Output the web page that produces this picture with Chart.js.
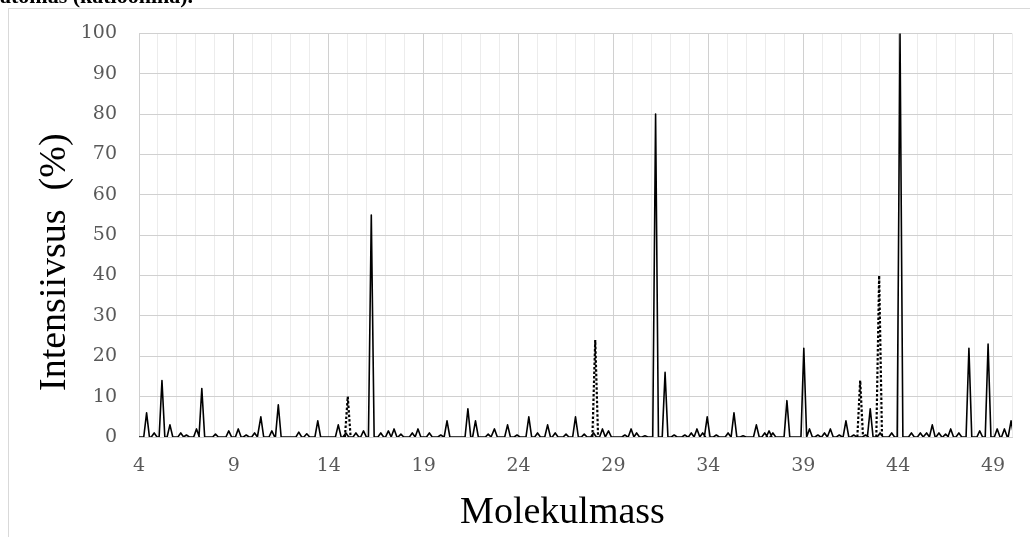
<!DOCTYPE html>
<html>
<head>
<meta charset="utf-8">
<script src="https://cdn.jsdelivr.net/npm/chart.js@4"></script>
<style>
    html, body { margin: 0; padding: 0; background: #fff; }
    body { width: 1030px; height: 537px; overflow: hidden; position: relative; }
    #caption { position: absolute; left: 0; top: -17px; font: bold 22px 'Liberation Serif', serif; line-height: 26px; white-space: nowrap; color: #000; z-index: 2; }
    #frame { position: absolute; left: 8px; top: 8px; width: 1100px; height: 600px; border: 1px solid #d9d9d9; box-sizing: border-box; }
    #wrap { position: absolute; left: 0; top: 0; width: 1030px; height: 537px; }
</style>
</head>
<body>
<div id="caption">atomas (katioonina).</div>
<div id="frame"></div>
<div id="wrap"><canvas id="spectrum"></canvas></div>
<script>
// peaks of the measured spectrum (solid line)
const solidMass = [
    4.40, 4.80, 5.21, 5.63, 6.20, 6.50, 7.03, 7.31, 8.03, 8.73,
    9.23, 9.65, 10.09, 10.42, 11.00, 11.34, 12.42, 12.84, 13.42, 14.50,
    14.90, 15.43, 15.83, 16.24, 16.74, 17.14, 17.44, 17.80, 18.40, 18.70,
    19.30, 19.90, 20.23, 21.33, 21.73, 22.40, 22.73, 23.42, 23.92, 24.54,
    25.00, 25.53, 25.93, 26.50, 27.00, 27.46, 27.95, 28.42, 28.74, 29.60,
    29.93, 30.22, 30.66, 31.22, 31.72, 32.20, 32.76, 33.10, 33.40, 33.70,
    33.94, 34.42, 35.04, 35.35, 35.83, 36.53, 36.97, 37.20, 37.40, 38.14,
    39.03, 39.33, 39.77, 40.12, 40.43, 40.90, 41.25, 41.66, 42.28, 42.53,
    43.05, 43.66, 44.10, 44.70, 45.17, 45.50, 45.80, 46.15, 46.50, 46.77,
    47.20, 47.73, 48.30, 48.74, 49.22, 49.60, 49.95
];
const solidIntensity = [
    6, 1, 14, 3, 1, 0.5, 2, 12, 0.7, 1.5,
    2, 0.5, 1, 5, 1.5, 8, 1.2, 0.8, 4, 3,
    1, 1, 1.5, 55, 1, 1.5, 2, 0.7, 1, 2,
    1, 0.5, 4, 7, 4, 0.7, 2, 3, 0.5, 5,
    1, 3, 1, 0.7, 5, 0.7, 1, 2, 1.5, 0.5,
    2, 1, 0.3, 80, 16, 0.5, 0.5, 1, 2, 1,
    5, 0.5, 1, 6, 0.3, 3, 1, 1.5, 1, 9,
    22, 2, 0.5, 1, 2, 0.5, 4, 0.5, 0.5, 7,
    1, 1, 100, 1, 1, 1, 3, 1, 0.7, 2,
    1, 22, 1.5, 23, 2, 2, 4
];

// peaks drawn with the dotted line
const dashMass = [15.0, 28.04, 42.0, 43.0];
const dashIntensity = [10, 24, 14, 40];

const xTickLabels = [4, 9, 14, 19, 24, 29, 34, 39, 44, 49];
const xTitle = 'Molekulmass';
const yTitle = 'Intensiivsus  (%)';

const HALF_WIDTH = 0.15; // half width of a drawn peak, in mass units

function spikeLine(mass, inten, broken) {
    const pts = [];
    mass.forEach((m, i) => {
        pts.push({ x: m - HALF_WIDTH, y: 0 }, { x: m, y: inten[i] }, { x: m + HALF_WIDTH, y: 0 });
        if (broken) pts.push({ x: m + HALF_WIDTH, y: null });
    });
    return pts;
}

const solidPoints = [{ x: 4, y: 0 }].concat(spikeLine(solidMass, solidIntensity, false), [{ x: 50, y: 0 }]);
const dashPoints = spikeLine(dashMass, dashIntensity, true);

const axisTitles = {
    id: 'axisTitles',
    afterDraw(chart) {
        const ctx = chart.ctx;
        const area = chart.chartArea;
        ctx.save();
        ctx.fillStyle = '#000';
        ctx.font = '38px "Liberation Serif", "Times New Roman", serif';
        ctx.textAlign = 'center';
        ctx.textBaseline = 'alphabetic';
        ctx.fillText(xTitle, (area.left + area.right) / 2 - 13, area.bottom + 86);
        ctx.translate(65, (area.top + area.bottom) / 2 + 27);
        ctx.rotate(-Math.PI / 2);
        ctx.fillText(yTitle, 0, 0);
        ctx.restore();
    }
};

const tickFont = { family: '"DejaVu Serif", serif', size: 19 };

new Chart(document.getElementById('spectrum').getContext('2d'), {
    type: 'line',
    data: {
        datasets: [
            { data: solidPoints, borderColor: '#000', borderWidth: 1.6, pointRadius: 0, tension: 0, borderJoinStyle: 'round', spanGaps: false },
            { data: dashPoints, borderColor: '#000', borderWidth: 2.2, borderDash: [2.5, 2], pointRadius: 0, tension: 0, spanGaps: false }
        ]
    },
    options: {
        responsive: true,
        maintainAspectRatio: false,
        animation: false,
        layout: { padding: { top: 30, right: 15, left: 0, bottom: 0 } },
        plugins: { legend: { display: false }, tooltip: { enabled: false } },
        scales: {
            x: {
                type: 'linear', min: 4, max: 50,
                afterFit: s => { s.height = 100; },
                ticks: {
                    stepSize: 1, maxTicksLimit: 100, autoSkip: false, maxRotation: 0, padding: 18,
                    color: '#595959', font: tickFont,
                    callback: v => xTickLabels.includes(v) ? String(v) : ''
                },
                grid: {
                    drawTicks: false,
                    color: c => xTickLabels.includes(c.tick && c.tick.value) ? '#d0d0d0' : '#ececec'
                },
                border: { color: '#d0d0d0' }
            },
            y: {
                min: 0, max: 100,
                afterFit: s => { s.width = 139; },
                ticks: { stepSize: 10, padding: 22, color: '#595959', font: tickFont },
                grid: { drawTicks: false, color: '#d0d0d0' },
                border: { color: '#d0d0d0' }
            }
        }
    },
    plugins: [axisTitles]
});
</script>
</body>
</html>
